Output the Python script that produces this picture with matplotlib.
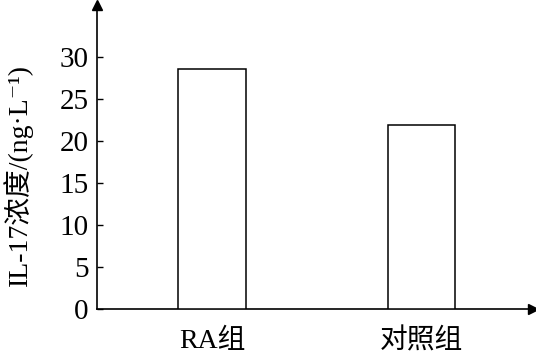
import matplotlib
matplotlib.use("Agg")
import matplotlib.pyplot as plt

groups = ["RA组", "对照组"]
values = [28.6, 21.9]
yticks = [0, 5, 10, 15, 20, 25, 30]

plt.rcParams['font.family'] = ['Liberation Serif', 'Noto Sans CJK SC', 'DejaVu Serif']

fig = plt.figure(figsize=(5.36, 3.57), dpi=100)
ax = fig.add_axes([0.181, 0.134, 0.813, 0.852])

x = list(range(len(groups)))
ax.bar(x, values, width=0.32, color="white", edgecolor="black", linewidth=1.1, zorder=3)

ax.set_xlim(-0.548, 1.529)
ax.set_ylim(0, 36.2)
ax.set_xticks(x)
ax.set_xticklabels(groups, fontsize=20)
ax.set_yticks(yticks)
ax.set_yticklabels([str(t) for t in yticks], fontsize=21)
ax.tick_params(axis="x", length=0, pad=14)
ax.tick_params(axis="y", direction="in", length=4, width=1, pad=6)

for s in ["top", "right"]:
    ax.spines[s].set_visible(False)
for s in ["left", "bottom"]:
    ax.spines[s].set_linewidth(1.2)

# arrow heads at axis ends
ax.plot(1, 0, marker=">", color="black", markersize=7, transform=ax.transAxes, clip_on=False)
ax.plot(0, 1, marker="^", color="black", markersize=7, transform=ax.transAxes, clip_on=False)

ax.set_ylabel("IL-17浓度/(ng·L⁻¹)", fontsize=20)
ax.yaxis.set_label_coords(-0.147, 0.44)

fig.savefig("out.png", dpi=100)
